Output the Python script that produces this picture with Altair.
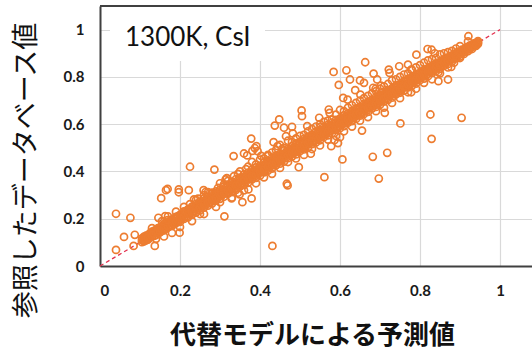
import altair as alt
import pandas as pd

# Surrogate-model prediction vs. reference database value (1300K, CsI)

# dense core of the cloud, along the diagonal
core_a_x = [0.105, 0.115, 0.125, 0.135, 0.145, 0.155, 0.165, 0.175, 0.185, 0.195,
            0.205, 0.215, 0.225, 0.235, 0.245, 0.255, 0.265, 0.275, 0.285, 0.295,
            0.305, 0.315, 0.325, 0.335, 0.345, 0.355, 0.365, 0.375, 0.385, 0.395,
            0.405, 0.415, 0.425, 0.435, 0.445, 0.455, 0.465, 0.475, 0.485, 0.495,
            0.505, 0.515, 0.525, 0.535, 0.545, 0.555, 0.565, 0.575, 0.585, 0.595,
            0.605, 0.615, 0.625, 0.635, 0.645, 0.655, 0.665, 0.675, 0.685, 0.695,
            0.705, 0.715, 0.725, 0.735, 0.745, 0.755, 0.765, 0.775, 0.785, 0.795,
            0.805, 0.815, 0.825, 0.835, 0.845, 0.855, 0.865, 0.875, 0.885, 0.895,
            0.905, 0.915, 0.925, 0.935, 0.945]
core_a_y = [0.109, 0.122, 0.127, 0.144, 0.150, 0.156, 0.173, 0.181, 0.188, 0.205,
            0.209, 0.222, 0.225, 0.243, 0.250, 0.266, 0.268, 0.281, 0.294, 0.297,
            0.313, 0.321, 0.328, 0.345, 0.349, 0.362, 0.367, 0.386, 0.391, 0.401,
            0.414, 0.419, 0.436, 0.440, 0.452, 0.466, 0.469, 0.483, 0.494, 0.498,
            0.516, 0.521, 0.531, 0.546, 0.549, 0.563, 0.570, 0.587, 0.590, 0.602,
            0.615, 0.619, 0.637, 0.641, 0.652, 0.666, 0.668, 0.684, 0.693, 0.699,
            0.716, 0.721, 0.731, 0.745, 0.748, 0.764, 0.771, 0.786, 0.789, 0.801,
            0.813, 0.818, 0.834, 0.840, 0.851, 0.862, 0.867, 0.883, 0.890, 0.898,
            0.911, 0.918, 0.929, 0.938, 0.946]

core_b_x = [0.110, 0.120, 0.130, 0.140, 0.150, 0.160, 0.170, 0.180, 0.190, 0.200,
            0.210, 0.220, 0.230, 0.240, 0.250, 0.260, 0.270, 0.280, 0.290, 0.300,
            0.310, 0.320, 0.330, 0.340, 0.350, 0.360, 0.370, 0.380, 0.390, 0.400,
            0.410, 0.420, 0.430, 0.440, 0.450, 0.460, 0.470, 0.480, 0.490, 0.500,
            0.510, 0.520, 0.530, 0.540, 0.550, 0.560, 0.570, 0.580, 0.590, 0.600,
            0.610, 0.620, 0.630, 0.640, 0.650, 0.660, 0.670, 0.680, 0.690, 0.700,
            0.710, 0.720, 0.730, 0.740, 0.750, 0.760, 0.770, 0.780, 0.790, 0.800,
            0.810, 0.820, 0.830, 0.840, 0.850, 0.860, 0.870, 0.880, 0.890, 0.900,
            0.910, 0.920, 0.930, 0.940]
core_b_y = [0.124, 0.131, 0.145, 0.153, 0.163, 0.177, 0.184, 0.197, 0.208, 0.216,
            0.231, 0.240, 0.251, 0.263, 0.272, 0.286, 0.293, 0.305, 0.316, 0.323,
            0.337, 0.344, 0.357, 0.368, 0.374, 0.388, 0.395, 0.408, 0.417, 0.424,
            0.438, 0.446, 0.457, 0.468, 0.474, 0.489, 0.496, 0.507, 0.519, 0.525,
            0.538, 0.547, 0.556, 0.569, 0.575, 0.588, 0.597, 0.606, 0.618, 0.624,
            0.637, 0.646, 0.655, 0.667, 0.673, 0.686, 0.695, 0.704, 0.716, 0.722,
            0.735, 0.744, 0.752, 0.764, 0.770, 0.783, 0.791, 0.800, 0.811, 0.817,
            0.830, 0.837, 0.846, 0.857, 0.862, 0.874, 0.881, 0.889, 0.899, 0.904,
            0.916, 0.927, 0.935, 0.944]

core_c_x = core_b_x
core_c_y = [0.104, 0.112, 0.124, 0.131, 0.142, 0.151, 0.163, 0.170, 0.181, 0.187,
            0.199, 0.206, 0.217, 0.226, 0.235, 0.247, 0.255, 0.264, 0.277, 0.284,
            0.293, 0.306, 0.313, 0.322, 0.336, 0.343, 0.352, 0.366, 0.373, 0.382,
            0.396, 0.403, 0.412, 0.426, 0.433, 0.442, 0.456, 0.463, 0.472, 0.486,
            0.493, 0.502, 0.516, 0.523, 0.532, 0.546, 0.553, 0.562, 0.576, 0.583,
            0.592, 0.606, 0.613, 0.622, 0.636, 0.643, 0.652, 0.666, 0.673, 0.682,
            0.696, 0.703, 0.712, 0.726, 0.733, 0.742, 0.756, 0.763, 0.772, 0.786,
            0.793, 0.803, 0.817, 0.824, 0.834, 0.847, 0.855, 0.865, 0.878, 0.886,
            0.897, 0.909, 0.918, 0.931]

core_d_x = core_b_x
core_d_y = [0.118, 0.127, 0.139, 0.151, 0.159, 0.168, 0.182, 0.189, 0.199, 0.212,
            0.220, 0.229, 0.243, 0.250, 0.260, 0.273, 0.281, 0.290, 0.303, 0.311,
            0.321, 0.334, 0.341, 0.350, 0.364, 0.371, 0.381, 0.394, 0.401, 0.411,
            0.424, 0.431, 0.441, 0.454, 0.461, 0.471, 0.484, 0.491, 0.501, 0.514,
            0.521, 0.531, 0.544, 0.551, 0.561, 0.574, 0.581, 0.591, 0.604, 0.611,
            0.621, 0.634, 0.641, 0.651, 0.664, 0.671, 0.681, 0.694, 0.701, 0.711,
            0.724, 0.731, 0.741, 0.754, 0.761, 0.771, 0.784, 0.791, 0.801, 0.813,
            0.820, 0.829, 0.841, 0.848, 0.857, 0.868, 0.876, 0.884, 0.895, 0.902,
            0.912, 0.922, 0.933, 0.941]

core_e_x = core_a_x
core_e_y = [0.101, 0.108, 0.120, 0.127, 0.139, 0.148, 0.158, 0.170, 0.177, 0.188,
            0.199, 0.207, 0.220, 0.227, 0.238, 0.249, 0.257, 0.270, 0.277, 0.288,
            0.299, 0.307, 0.320, 0.327, 0.338, 0.349, 0.357, 0.370, 0.377, 0.388,
            0.399, 0.407, 0.420, 0.427, 0.438, 0.449, 0.457, 0.470, 0.477, 0.488,
            0.499, 0.507, 0.520, 0.527, 0.538, 0.549, 0.557, 0.570, 0.577, 0.588,
            0.599, 0.607, 0.620, 0.627, 0.638, 0.649, 0.657, 0.670, 0.677, 0.688,
            0.699, 0.707, 0.720, 0.727, 0.738, 0.749, 0.757, 0.770, 0.777, 0.788,
            0.799, 0.807, 0.820, 0.827, 0.838, 0.849, 0.857, 0.870, 0.877, 0.888,
            0.899, 0.907, 0.920, 0.929, 0.940]

core_f_x = core_a_x
core_f_y = [0.117, 0.128, 0.139, 0.149, 0.160, 0.170, 0.180, 0.191, 0.201, 0.211,
            0.222, 0.232, 0.242, 0.253, 0.262, 0.272, 0.283, 0.292, 0.303, 0.313,
            0.322, 0.333, 0.343, 0.352, 0.363, 0.373, 0.382, 0.393, 0.403, 0.412,
            0.423, 0.433, 0.442, 0.453, 0.463, 0.472, 0.483, 0.493, 0.502, 0.513,
            0.523, 0.532, 0.543, 0.553, 0.562, 0.573, 0.583, 0.592, 0.603, 0.613,
            0.622, 0.633, 0.643, 0.652, 0.663, 0.673, 0.682, 0.693, 0.703, 0.712,
            0.723, 0.733, 0.742, 0.753, 0.763, 0.772, 0.783, 0.793, 0.802, 0.813,
            0.822, 0.832, 0.841, 0.851, 0.860, 0.870, 0.879, 0.888, 0.897, 0.906,
            0.915, 0.924, 0.933, 0.942, 0.951]

core_g_x = core_b_x
core_g_y = [0.109, 0.120, 0.128, 0.140, 0.148, 0.160, 0.168, 0.180, 0.188, 0.200,
            0.208, 0.220, 0.228, 0.240, 0.248, 0.260, 0.268, 0.280, 0.288, 0.300,
            0.308, 0.320, 0.328, 0.340, 0.348, 0.360, 0.368, 0.380, 0.388, 0.400,
            0.408, 0.420, 0.428, 0.440, 0.448, 0.460, 0.468, 0.480, 0.488, 0.500,
            0.508, 0.520, 0.528, 0.540, 0.548, 0.560, 0.568, 0.580, 0.588, 0.600,
            0.608, 0.620, 0.628, 0.640, 0.648, 0.660, 0.668, 0.680, 0.688, 0.700,
            0.708, 0.720, 0.728, 0.740, 0.748, 0.760, 0.768, 0.780, 0.788, 0.800,
            0.808, 0.820, 0.828, 0.840, 0.848, 0.860, 0.868, 0.880, 0.888, 0.900,
            0.908, 0.920, 0.928, 0.938]

# loose points just off the core
near_x = [0.13, 0.155, 0.17, 0.19, 0.21, 0.24, 0.26, 0.28, 0.30, 0.32,
          0.35, 0.37, 0.38, 0.40, 0.42, 0.44, 0.46, 0.47, 0.50, 0.52,
          0.54, 0.56, 0.58, 0.60, 0.62, 0.64, 0.66, 0.68, 0.70, 0.72,
          0.74, 0.76, 0.78, 0.80, 0.82, 0.84, 0.86, 0.88, 0.90, 0.92,
          0.14, 0.16, 0.18, 0.20, 0.23, 0.26, 0.29, 0.33, 0.36, 0.39,
          0.43, 0.47, 0.51, 0.55, 0.59, 0.63, 0.67, 0.71, 0.75, 0.79,
          0.83, 0.87, 0.90,
          0.225, 0.245, 0.27, 0.295, 0.31, 0.335, 0.345, 0.365, 0.39, 0.41,
          0.43, 0.455, 0.48, 0.49, 0.51, 0.53, 0.55, 0.57, 0.59, 0.61,
          0.63, 0.65, 0.67, 0.69, 0.71, 0.73, 0.75, 0.77, 0.79, 0.81,
          0.83, 0.85, 0.87, 0.89,
          0.25, 0.30, 0.345, 0.41, 0.45, 0.49, 0.53, 0.57, 0.61, 0.65,
          0.69, 0.73, 0.77, 0.81, 0.85, 0.885]
near_y = [0.16, 0.19, 0.21, 0.23, 0.25, 0.28, 0.30, 0.31, 0.35, 0.36,
          0.40, 0.42, 0.44, 0.45, 0.47, 0.49, 0.50, 0.53, 0.55, 0.57,
          0.59, 0.61, 0.62, 0.66, 0.67, 0.69, 0.71, 0.73, 0.75, 0.77,
          0.79, 0.81, 0.83, 0.85, 0.87, 0.88, 0.90, 0.91, 0.93, 0.95,
          0.115, 0.125, 0.14, 0.165, 0.19, 0.22, 0.25, 0.29, 0.32, 0.35,
          0.39, 0.44, 0.47, 0.51, 0.55, 0.59, 0.63, 0.67, 0.71, 0.75,
          0.79, 0.84, 0.88,
          0.262, 0.285, 0.312, 0.33, 0.345, 0.38, 0.39, 0.41, 0.43, 0.455,
          0.48, 0.495, 0.525, 0.54, 0.555, 0.58, 0.60, 0.615, 0.64, 0.655,
          0.68, 0.70, 0.72, 0.74, 0.76, 0.785, 0.80, 0.815, 0.84, 0.86,
          0.875, 0.895, 0.905, 0.92,
          0.22, 0.27, 0.31, 0.375, 0.415, 0.455, 0.495, 0.535, 0.57, 0.615,
          0.655, 0.69, 0.735, 0.775, 0.815, 0.86]

# scattered points far from the diagonal
out_x = [0.040, 0.076, 0.060, 0.040, 0.087, 0.084, 0.137, 0.153, 0.165, 0.169,
         0.197, 0.197, 0.225, 0.222, 0.259, 0.264, 0.286, 0.311, 0.199, 0.146,
         0.163, 0.169, 0.235, 0.334, 0.378, 0.379, 0.356, 0.349, 0.329, 0.314,
         0.317, 0.371, 0.360, 0.368, 0.381, 0.387, 0.394, 0.403, 0.420, 0.391,
         0.437, 0.448, 0.460, 0.480, 0.482, 0.465, 0.434, 0.444, 0.450, 0.497,
         0.467, 0.469, 0.431, 0.561, 0.504, 0.505, 0.518, 0.527, 0.548, 0.552,
         0.572, 0.574, 0.586, 0.578, 0.595, 0.606, 0.600, 0.584, 0.616, 0.597,
         0.625, 0.650, 0.660, 0.638, 0.651, 0.608, 0.619, 0.663, 0.684, 0.693,
         0.683, 0.689, 0.702, 0.655, 0.682, 0.718, 0.697, 0.712, 0.722, 0.724,
         0.748, 0.770, 0.791, 0.778, 0.819, 0.829, 0.837, 0.846, 0.870, 0.846,
         0.878, 0.921, 0.826, 0.904, 0.829, 0.751, 0.778]
out_y = [0.221, 0.204, 0.123, 0.068, 0.132, 0.085, 0.085, 0.287, 0.321, 0.326,
         0.324, 0.312, 0.420, 0.321, 0.321, 0.313, 0.408, 0.210, 0.141, 0.204,
         0.211, 0.194, 0.282, 0.465, 0.539, 0.286, 0.270, 0.303, 0.286, 0.366,
         0.372, 0.324, 0.476, 0.468, 0.487, 0.499, 0.486, 0.466, 0.466, 0.507,
         0.594, 0.620, 0.585, 0.589, 0.561, 0.549, 0.524, 0.507, 0.512, 0.418,
         0.348, 0.341, 0.085, 0.376, 0.658, 0.634, 0.592, 0.475, 0.627, 0.590,
         0.662, 0.648, 0.532, 0.507, 0.520, 0.451, 0.545, 0.821, 0.828, 0.766,
         0.789, 0.785, 0.775, 0.744, 0.725, 0.711, 0.704, 0.862, 0.814, 0.789,
         0.754, 0.750, 0.763, 0.573, 0.462, 0.479, 0.370, 0.648, 0.831, 0.817,
         0.845, 0.852, 0.894, 0.831, 0.918, 0.915, 0.900, 0.820, 0.789, 0.782,
         0.842, 0.972, 0.641, 0.627, 0.538, 0.603, 0.735]

# y = x reference line
diag_x = [0.0, 1.0]
diag_y = [0.0, 1.0]

tick_values = [0, 0.2, 0.4, 0.6, 0.8, 1]
x_title = "代替モデルによる予測値"
y_title = "参照したデータベース値"
panel_label = "1300K, CsI"

points = pd.DataFrame({
    "pred": (core_a_x + core_b_x + core_c_x + core_d_x + core_e_x + core_f_x
             + core_g_x + near_x + out_x),
    "ref": (core_a_y + core_b_y + core_c_y + core_d_y + core_e_y + core_f_y
            + core_g_y + near_y + out_y),
})
diag = pd.DataFrame({"pred": diag_x, "ref": diag_y})

W, H = 432, 260
TICK_FONT = "Lato"
CJK_FONT = "Noto Sans CJK JP"

x_enc = alt.X(
    "pred:Q",
    scale=alt.Scale(domain=[0, 1.08], nice=False, zero=False),
    axis=alt.Axis(
        values=tick_values, format="~g", title=x_title,
        titleFont=CJK_FONT, titleFontSize=26, titleFontWeight="bold",
        titleColor="#111111", titleBaseline="middle", titleY=69, titleX=W / 2 - 4,
        labelFont=TICK_FONT, labelFontSize=15, labelFontWeight="bold",
        labelColor="#1a1a1a", labelPadding=17, ticks=False,
        domainColor="#404040", domainWidth=2,
        gridColor="#d9d9d9", gridWidth=1.2,
    ),
)
y_enc = alt.Y(
    "ref:Q",
    scale=alt.Scale(domain=[0, 1.1], nice=False, zero=False),
    axis=alt.Axis(
        values=tick_values, format="~g", title=y_title,
        titleFont=CJK_FONT, titleFontSize=27, titleFontWeight="normal",
        titleColor="#111111", titleAngle=270, titleAlign="center",
        titleBaseline="middle", titleX=-74, titleY=164,
        labelFont=TICK_FONT, labelFontSize=15, labelFontWeight="bold",
        labelColor="#1a1a1a", labelPadding=16, ticks=False,
        domainColor="#404040", domainWidth=2,
        gridColor="#d9d9d9", gridWidth=1.2,
    ),
)

# white backing behind the panel label
label_box = alt.Chart(alt.Data(values=[{}])).mark_rect(color="white").encode(
    x=alt.value(10), x2=alt.value(165), y=alt.value(1), y2=alt.value(55)
)

diag_line = alt.Chart(diag).mark_line(
    color="#e3304f", strokeDash=[4, 3], strokeWidth=1.3
).encode(x=x_enc, y=y_enc)

scatter = alt.Chart(points).mark_point(
    shape="circle", filled=False, color="#ED7D31", size=50,
    strokeWidth=1.7, opacity=1
).encode(x=x_enc, y=y_enc)

label = alt.Chart(alt.Data(values=[{"t": panel_label}])).mark_text(
    font=TICK_FONT, fontSize=26, align="left", baseline="alphabetic", color="#111111"
).encode(text="t:N", x=alt.value(25), y=alt.value(40))

top_border = alt.Chart(alt.Data(values=[{}])).mark_rule(
    color="#404040", strokeWidth=2
).encode(x=alt.value(0), x2=alt.value(W), y=alt.value(0))

chart = alt.layer(label_box, diag_line, scatter, label, top_border).properties(
    width=W, height=H,
    autosize=alt.AutoSizeParams(type="none"),
    padding={"left": 100, "top": 6, "right": 0, "bottom": 88},
    background="white",
).configure_view(stroke=None)

chart.save("out.html", embed_options={"renderer": "svg", "actions": False})
